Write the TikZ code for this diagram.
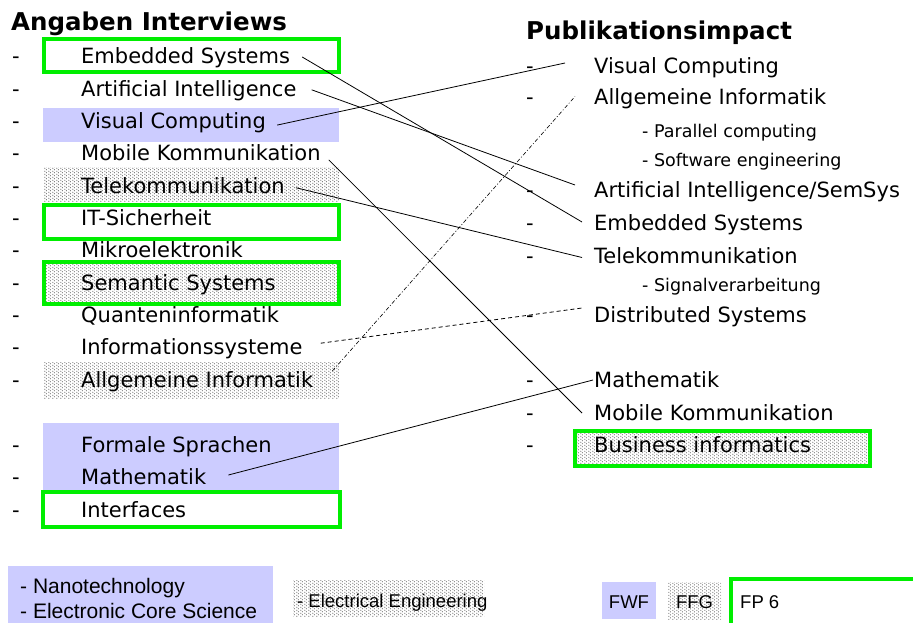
\documentclass[tikz,border=0pt]{standalone}
\usepackage{fontspec}
\setmainfont{DejaVu Sans}
\newfontfamily\arialfont{Liberation Sans}
\usetikzlibrary{patterns}
\pgfdeclarepatternformonly{mydots}{\pgfqpoint{0pt}{0pt}}{\pgfqpoint{4pt}{3.4pt}}{\pgfqpoint{4pt}{3.4pt}}{%
  \pgfpathcircle{\pgfqpoint{1pt}{0.85pt}}{0.6pt}%
  \pgfpathcircle{\pgfqpoint{3pt}{2.55pt}}{0.6pt}%
  \pgfusepath{fill}}
\definecolor{grn}{RGB}{0,238,0}
\definecolor{lav}{RGB}{204,204,255}
\begin{document}
\begin{tikzpicture}[x=1pt,y=-1pt,
  item/.style={anchor=base west, inner sep=0pt, text height=16pt, text depth=5pt, font=\fontsize{21}{24}\selectfont},
  subitem/.style={anchor=base west, inner sep=0pt, font=\fontsize{17.5}{20}\selectfont},
  bullet/.style={anchor=base west, inner sep=0pt, font=\fontsize{21}{24}\selectfont},
  ttl/.style={anchor=base west, inner sep=0pt, font=\bfseries\fontsize{24.5}{28}\selectfont},
  legend/.style={anchor=base west, inner sep=0pt, font=\arialfont\fontsize{21}{24}\selectfont},
  legsmall/.style={inner sep=0pt, font=\arialfont\fontsize{18.5}{20}\selectfont},
  greenbox/.style={draw=grn, line width=4pt},
  bluebox/.style={fill=lav},
  dotbox/.style={pattern=mydots, pattern color=black!75},
  conn/.style={line width=0.8pt, black},
  dashedconn/.style={conn, dash pattern=on 4pt off 3pt},
  dashdotconn/.style={conn, line width=0.6pt, dash pattern=on 4pt off 2pt on 1pt off 2pt}]
\useasboundingbox (0,0) rectangle (913,623);
\clip (0,0) rectangle (913,623);

% ---------- backgrounds (left column)
\fill[bluebox] (43,108) rectangle (339,142);
\fill[dotbox] (43,168) rectangle (339,201);
\fill[dotbox] (44,262) rectangle (339,304);
\fill[dotbox] (43,362) rectangle (339,398);
\fill[bluebox] (43,423) rectangle (339,492);
\draw[greenbox] (44,39) rectangle (339,72);
\draw[greenbox] (44,205) rectangle (339,239);
\draw[greenbox] (44,262) rectangle (339,304);
\draw[greenbox] (43,492) rectangle (340,527);

% ---------- backgrounds (right column)
\fill[dotbox] (575,431) rectangle (870,466);
\draw[greenbox] (575,431) rectangle (870,466);

% ---------- backgrounds (legend)
\fill[bluebox] (8,566) rectangle (273,630);
\fill[dotbox] (293,580) rectangle (484,616);
\fill[bluebox] (602,582) rectangle (656,619);
\fill[dotbox] (668,582) rectangle (721,619);
\draw[greenbox] (731,579) rectangle (940,640);

% ---------- titles
\node[ttl] (tleft) at (11,31) {Angaben Interviews};
\node[ttl] (tright) at (526,40) {Publikationsimpact};

% ---------- left list
\foreach \nm/\txt/\yy in {lemb/Embedded Systems/64, lai/Artificial Intelligence/96.3,
  lvis/Visual Computing/128.6, lmob/Mobile Kommunikation/160.9, ltel/Telekommunikation/193.2,
  lit/IT-Sicherheit/225.5, lmik/Mikroelektronik/257.8, lsem/Semantic Systems/290.1,
  lqua/Quanteninformatik/322.4, linf/Informationssysteme/354.7, lall/Allgemeine Informatik/387,
  lfor/Formale Sprachen/452, lmat/Mathematik/484, lint/Interfaces/517}{
  \node[bullet] (d\nm) at (12,\yy) {-};
  \node[item] (\nm) at (81,\yy) {\txt};
}

% ---------- right list
\foreach \nm/\txt/\yy in {rvis/Visual Computing/74, rall/Allgemeine Informatik/105,
  rai/Artificial Intelligence\slash SemSys/197, remb/Embedded Systems/230,
  rtel/Telekommunikation/263, rdis/Distributed Systems/322, rmat/Mathematik/387,
  rmob/Mobile Kommunikation/420, rbus/Business informatics/452}{
  \node[bullet] (d\nm) at (526,\yy) {-};
  \node[item] (\nm) at (594,\yy) {\txt};
}
\node[subitem] (rpar) at (642,138) {- Parallel computing};
\node[subitem] (rsw) at (642,166) {- Software engineering};
\node[subitem] (rsig) at (642,291) {- Signalverarbeitung};

% ---------- legend
\node[legend] (nano) at (20,593) {- Nanotechnology};
\node[legend] (ecs) at (20,618) {- Electronic Core Science};
\node[legsmall, anchor=base west] (ee) at (297,607) {- Electrical Engineering};
\node[legsmall, anchor=base] (fwf) at (629,608) {FWF};
\node[legsmall, anchor=base] (ffg) at (694.5,608) {FFG};
\node[legsmall, anchor=base west] (fp) at (740,608) {FP 6};

% ---------- connectors
\draw[conn] ([shift={(12,-1.5)}]lemb.east) -- ([shift={(-12,-2.5)}]remb.west);
\draw[conn] ([shift={(15,-1)}]lai.east) -- ([shift={(-19,-6.5)}]rai.west);
\draw[conn] ([shift={(11,2)}]lvis.east) -- ([shift={(-29,-5.5)}]rvis.west);
\draw[conn] ([shift={(8,4.5)}]lmob.east) -- ([shift={(-12,-1.5)}]rmob.west);
\draw[conn] ([shift={(11,0)}]ltel.east) -- ([shift={(-12,0)}]rtel.west);
\draw[dashedconn] ([shift={(18,-6)}]linf.east) -- ([shift={(-12,-8.5)}]rdis.west);
\draw[dashdotconn] ([shift={(19,-10.5)}]lall.east) -- ([shift={(-19,-3)}]rall.west);
\draw[conn] ([shift={(22,-3.5)}]lmat.east) -- ([shift={(-1,-1.5)}]rmat.west);
\end{tikzpicture}
\end{document}
